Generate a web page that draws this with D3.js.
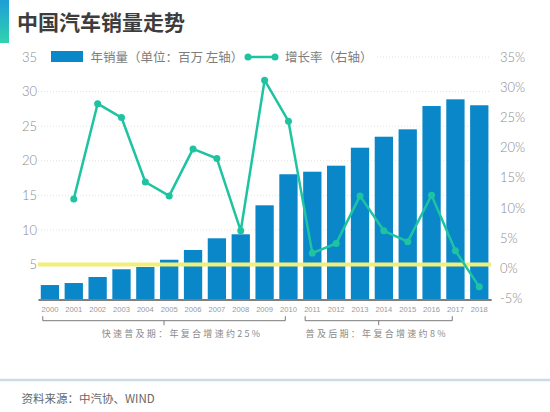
<!DOCTYPE html>
<html><head><meta charset="utf-8">
<script src="https://cdn.jsdelivr.net/npm/d3@7"></script>
<style>
html,body{margin:0;padding:0;background:#fff;}
svg{display:block;}
</style></head><body>
<svg id="c" width="550" height="412"></svg>
<script>
// ---------- data ----------
const title = "中国汽车销量走势";
const sourceText = "资料来源：中汽协、WIND";
const legendLabels = ["年销量（单位：百万 左轴）", "增长率（右轴）"];
const years = ["2000","2001","2002","2003","2004","2005","2006","2007","2008","2009",
               "2010","2011","2012","2013","2014","2015","2016","2017","2018"];
const sales = [2.02,2.31,3.18,4.30,4.63,5.68,7.09,8.78,9.36,13.55,
               18.04,18.41,19.28,21.88,23.47,24.54,27.91,28.88,28.02];
const growth = [null,11.5,27.3,25.0,14.3,12.0,19.8,18.2,6.2,31.2,
                24.4,2.5,4.1,12.0,6.2,4.4,12.1,2.9,-3.1];
const leftTicks = [5,10,15,20,25,30,35];
const rightTicks = [-5,0,5,10,15,20,25,30,35];
const periodFrom = ["2000","2011"];
const periodTo = ["2010","2017"];
const periodLabels = ["快速普及期：年复合增速约25%", "普及后期：年复合增速约8%"];

// ---------- style / layout ----------
const barColor = "#0a87c9";
const lineColor = "#1ec4a1";
const yellow = "#f1ef78";
const cjk = "'Noto Sans CJK SC','Noto Sans',sans-serif";
const num = "Lato,'Liberation Sans',sans-serif";

const svg = d3.select("#c");

const x = d3.scaleBand().domain(years).range([38, 491.2]).paddingInner(0.233).paddingOuter(0.1165);
const yL = d3.scaleLinear().domain([0, 35]).range([299, 57]);
const yR = d3.scaleLinear().domain([-5, 35]).range([298.3, 57.3]);

// header accent
const defs = svg.append("defs");
const g = defs.append("linearGradient").attr("id","acc").attr("x1",0).attr("y1",0).attr("x2",0).attr("y2",1);
g.append("stop").attr("offset","0%").attr("stop-color","#1d9ed6");
g.append("stop").attr("offset","100%").attr("stop-color","#31d3ae");
svg.append("rect").attr("x",0).attr("y",0).attr("width",9).attr("height",43).attr("fill","url(#acc)");

svg.append("text").attr("x",17).attr("y",30)
  .attr("font-family",cjk).attr("font-size",21).attr("font-weight","bold")
  .attr("fill","#3d3d3d").text(title);

// gridlines
svg.append("g").selectAll("line").data(leftTicks).join("line")
  .attr("x1", d => d === 35 ? 377 : 38).attr("x2", 490)
  .attr("y1", d => yL(d)).attr("y2", d => yL(d))
  .attr("stroke","#e2e2e2").attr("stroke-width",1).attr("stroke-dasharray","1,2");

// bars
svg.append("g").selectAll("rect").data(years).join("rect")
  .attr("x", d => x(d)).attr("width", x.bandwidth())
  .attr("y", (d,i) => yL(sales[i])).attr("height", (d,i) => yL(0) - yL(sales[i]))
  .attr("fill", barColor);

// yellow reference line at left value 5
svg.append("line").attr("x1",38).attr("x2",491)
  .attr("y1",yL(5)).attr("y2",yL(5))
  .attr("stroke",yellow).attr("stroke-width",4);

// growth line
const pts = years.map((d,i) => ({d, v: growth[i]})).filter(p => p.v != null);
const line = d3.line().x(p => x(p.d) + x.bandwidth()/2).y(p => yR(p.v));
svg.append("path").datum(pts).attr("d", line)
  .attr("fill","none").attr("stroke",lineColor).attr("stroke-width",2.5).attr("stroke-linejoin","round");
svg.append("g").selectAll("circle").data(pts).join("circle")
  .attr("cx", p => x(p.d) + x.bandwidth()/2).attr("cy", p => yR(p.v)).attr("r",3.5)
  .attr("fill",lineColor);

// left axis labels
const ax = svg.append("g").attr("transform","translate(37,0)")
  .call(d3.axisLeft(yL).tickValues(leftTicks).tickSize(0).tickPadding(0));
ax.select(".domain").remove();
ax.selectAll("text").attr("font-family",num).attr("font-size",13).attr("font-weight",300).attr("fill","#8a8a8a");

// right axis labels
const ar = svg.append("g").attr("transform","translate(500,0)")
  .call(d3.axisRight(yR).tickValues(rightTicks).tickSize(0).tickPadding(0).tickFormat(d => d + "%"));
ar.select(".domain").remove();
ar.selectAll("text").attr("font-family",num).attr("font-size",13).attr("font-weight",300).attr("fill","#8a8a8a");

// bottom axis
const ab = svg.append("g").attr("transform","translate(0,299.5)")
  .call(d3.axisBottom(x).tickSize(0).tickPadding(7));
ab.select(".domain").attr("stroke","#555").attr("stroke-width",1.5);
ab.selectAll("text").attr("font-family","'Liberation Sans',Arial,sans-serif").attr("font-size",7.6).attr("fill","#9a9a9a");

// period brackets
const by = 320.7;
const textShift = [18, -2];
periodFrom.forEach((f,i) => {
  const x0 = x(f) + 2, x1 = x(periodTo[i]) + 6, xm = (x0 + x1) / 2;
  svg.append("path")
    .attr("d", `M${x0},${by-4.5}V${by}H${x1}V${by-4.5}M${xm},${by}V${by+4.5}`)
    .attr("fill","none").attr("stroke","#7a7a7a").attr("stroke-width",1);
  svg.append("text").attr("x", xm + textShift[i]).attr("y", 337)
    .attr("text-anchor","middle").attr("font-family",cjk).attr("font-size",9)
    .attr("letter-spacing",2.3).attr("fill","#8a8a8a").text(periodLabels[i]);
});

// legend
svg.append("rect").attr("x",51).attr("y",51).attr("width",32).attr("height",11).attr("fill",barColor);
svg.append("text").attr("x",90.5).attr("y",61.7).attr("font-family",cjk).attr("font-size",12.5)
  .attr("fill","#7d7d7d").text(legendLabels[0]);
svg.append("line").attr("x1",248).attr("x2",275).attr("y1",57).attr("y2",57)
  .attr("stroke",lineColor).attr("stroke-width",2.5);
svg.selectAll(".ld").data([248,275]).join("circle").attr("class","ld")
  .attr("cx",d=>d).attr("cy",57).attr("r",3.5).attr("fill",lineColor);
svg.append("text").attr("x",285).attr("y",61.7).attr("font-family",cjk).attr("font-size",12.5)
  .attr("fill","#7d7d7d").text(legendLabels[1]);

// footer
svg.append("line").attr("x1",0).attr("x2",550).attr("y1",380).attr("y2",380)
  .attr("stroke","#c9dce7").attr("stroke-width",2.5);
svg.append("text").attr("x",21.5).attr("y",403).attr("font-family",cjk).attr("font-size",11.5)
  .attr("fill","#666").text(sourceText);
</script>
</body></html>
